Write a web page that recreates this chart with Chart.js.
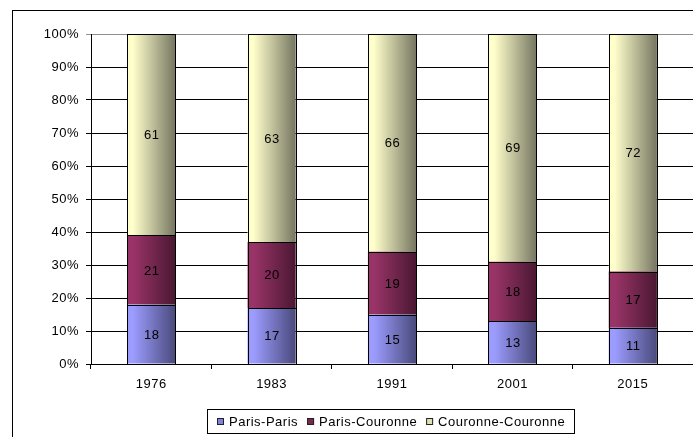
<!DOCTYPE html>
<html>
<head>
<meta charset="utf-8">
<script src="https://cdn.jsdelivr.net/npm/chart.js@4/dist/chart.umd.min.js"></script>
<style>
  html, body { margin: 0; padding: 0; background: #fff; }
  #wrap { width: 693px; height: 437px; position: relative; }
</style>
</head>
<body>
<div id="wrap"><canvas id="c" width="693" height="437"></canvas></div>
<script>
const categories = ['1976', '1983', '1991', '2001', '2015'];
const seriesNames = ['Paris-Paris', 'Paris-Couronne', 'Couronne-Couronne'];
const parisParis = [18, 17, 15, 13, 11];
const parisCouronne = [21, 20, 19, 18, 17];
const couronneCouronne = [61, 63, 66, 69, 72];
const yTickStep = 10;
const yMax = 100;

const FONT = 'Liberation Sans, Arial, sans-serif';
const SPACING = '0.5px';

const palettes = [
  { light: '#9c9cff', dark: '#4a4a7c', mid: '#8080e0' },
  { light: '#9a3468', dark: '#4a1832', mid: '#7a2850' },
  { light: '#ffffcc', dark: '#767662', mid: '#e0e0b0' }
];

function gradientFor(idx) {
  return function (ctx) {
    const chart = ctx.chart;
    const area = chart.chartArea;
    const xs = chart.scales.x;
    if (!area || !xs || ctx.dataIndex === undefined) return palettes[idx].mid;
    const cx = xs.getPixelForValue(ctx.dataIndex);
    const w = (area.right - area.left) / categories.length * 0.4;
    const g = chart.ctx.createLinearGradient(cx - w / 2, 0, cx + w / 2, 0);
    g.addColorStop(0, palettes[idx].light);
    g.addColorStop(0.12, palettes[idx].light);
    g.addColorStop(1, palettes[idx].dark);
    return g;
  };
}

const spacingPlugin = {
  id: 'spacing',
  beforeLayout(chart) { chart.ctx.letterSpacing = SPACING; },
  beforeDraw(chart) { chart.ctx.letterSpacing = SPACING; }
};

const labelsPlugin = {
  id: 'valueLabels',
  afterDatasetsDraw(chart) {
    const ctx = chart.ctx;
    ctx.save();
    // crisp outlines around each bar segment
    ctx.strokeStyle = '#000';
    ctx.lineWidth = 1;
    chart.data.datasets.forEach((ds, i) => {
      const meta = chart.getDatasetMeta(i);
      meta.data.forEach((bar) => {
        const l = Math.round(bar.x - bar.width / 2);
        const r = Math.round(bar.x + bar.width / 2);
        const t = Math.round(Math.min(bar.y, bar.base));
        const b = Math.round(Math.max(bar.y, bar.base));
        ctx.strokeRect(l + 0.5, t + 0.5, r - l, b - t);
      });
    });
    ctx.letterSpacing = SPACING;
    ctx.font = '13px ' + FONT;
    ctx.fillStyle = '#000';
    ctx.textAlign = 'center';
    ctx.textBaseline = 'middle';
    chart.data.datasets.forEach((ds, i) => {
      const meta = chart.getDatasetMeta(i);
      meta.data.forEach((bar, j) => {
        const y = (bar.y + bar.base) / 2;
        ctx.fillText(String(ds.data[j]), bar.x + 0.5, y + 1);
      });
    });
    ctx.restore();
  }
};

const framePlugin = {
  id: 'frameLegend',
  afterDraw(chart) {
    const ctx = chart.ctx;
    ctx.save();
    // outer frame (extends beyond the visible canvas on the right and bottom)
    ctx.strokeStyle = '#000';
    ctx.lineWidth = 1;
    ctx.strokeRect(12.5, 10.5, 800, 600);

    // legend
    ctx.letterSpacing = SPACING;
    ctx.font = '13px ' + FONT;
    const box = 7, gapIn = 5, gapOut = 9;
    const widths = seriesNames.map(n => ctx.measureText(n).width);
    let total = 0;
    widths.forEach((w, i) => { total += box + gapIn + w + (i < widths.length - 1 ? gapOut : 0); });
    const bx0 = 207.5, bx1 = 574.5, by0 = 409.5, by1 = 433.5;
    ctx.fillStyle = '#fff';
    ctx.fillRect(bx0, by0, bx1 - bx0, by1 - by0);
    ctx.strokeStyle = '#000';
    ctx.strokeRect(bx0, by0, bx1 - bx0, by1 - by0);
    let x = Math.round((bx0 + bx1) / 2 - total / 2);
    const cy = (by0 + by1) / 2;
    seriesNames.forEach((n, i) => {
      ctx.fillStyle = palettes[i].mid;
      ctx.fillRect(x, Math.round(cy - box / 2), box, box);
      ctx.strokeStyle = '#222';
      ctx.strokeRect(x + 0.5, Math.round(cy - box / 2) + 0.5, box - 1, box - 1);
      x += box + gapIn;
      ctx.fillStyle = '#000';
      ctx.textAlign = 'left';
      ctx.textBaseline = 'middle';
      ctx.fillText(n, x, cy + 1);
      x += widths[i] + gapOut;
    });
    ctx.restore();
  }
};

Chart.defaults.font.family = FONT;
Chart.defaults.font.size = 13;
Chart.defaults.color = '#000';

new Chart(document.getElementById('c'), {
  type: 'bar',
  data: {
    labels: categories,
    datasets: [
      { label: seriesNames[0], data: parisParis, backgroundColor: gradientFor(0) },
      { label: seriesNames[1], data: parisCouronne, backgroundColor: gradientFor(1) },
      { label: seriesNames[2], data: couronneCouronne, backgroundColor: gradientFor(2) }
    ].map(d => Object.assign(d, {
      borderWidth: 0,
      inflateAmount: 0,
      categoryPercentage: 0.4,
      barPercentage: 1.0
    }))
  },
  options: {
    responsive: false,
    devicePixelRatio: 1,
    animation: false,
    layout: { padding: { top: 34, left: 0, right: 0, bottom: 0 } },
    plugins: { legend: { display: false }, tooltip: { enabled: false } },
    scales: {
      x: {
        stacked: true,
        grid: { display: true, drawOnChartArea: false, drawTicks: true, tickLength: 5, color: '#000', offset: true },
        border: { display: true, color: '#000' },
        ticks: { padding: 8, font: { size: 13 }, color: '#000' },
        afterFit(scale) { scale.height = 73; }
      },
      y: {
        stacked: true,
        min: 0,
        max: yMax,
        grid: {
          color: (c) => (c.tick && c.tick.value === yMax ? '#909090' : '#000'),
          tickLength: 5,
          drawTicks: true
        },
        border: { display: true, color: '#000' },
        ticks: {
          stepSize: yTickStep,
          padding: 7,
          font: { size: 13 },
          color: '#000',
          callback: (v) => v + '%'
        },
        afterFit(scale) { scale.width = 91; }
      }
    }
  },
  plugins: [spacingPlugin, labelsPlugin, framePlugin]
});
</script>
</body>
</html>
